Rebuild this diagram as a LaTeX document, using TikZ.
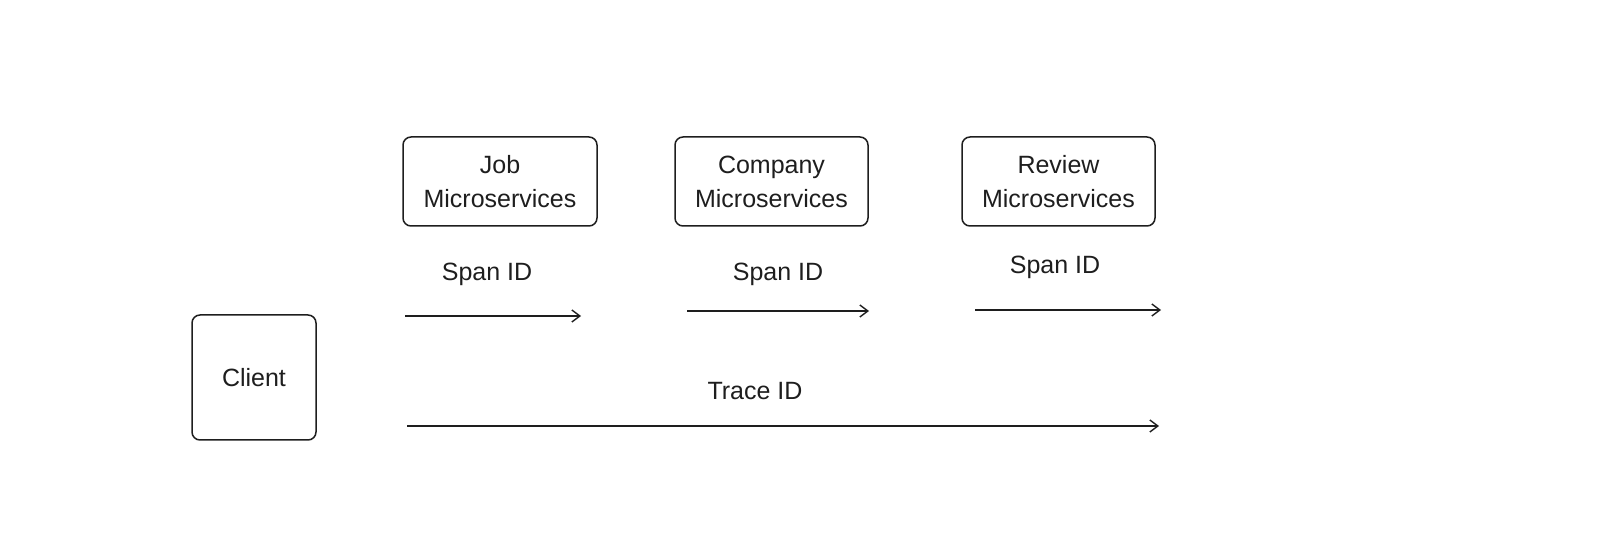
\documentclass[tikz,border=0pt]{standalone}
\usepackage{fontspec}
\setmainfont{Liberation Sans}
\usetikzlibrary{arrows.meta}
\definecolor{ink}{HTML}{1E1E1E}
\begin{document}
\begin{tikzpicture}[x=0.5pt,y=-0.5pt,
  box/.style={draw=ink,line width=0.75pt,rounded corners=4pt,inner sep=0pt,align=center,font=\fontsize{12.5}{17}\selectfont,text=ink},
  lbl/.style={inner sep=0pt,font=\fontsize{12.5}{17}\selectfont,text=ink},
  arr/.style={draw=ink,line width=0.7pt,-{Straight Barb[length=4pt,width=6pt]}}]
\useasboundingbox (0,0) rectangle (1608,534);
\node[box,minimum width=97pt,minimum height=44.5pt] (job) at (500,181.5) {Job\\Microservices};
\node[box,minimum width=96.5pt,minimum height=44.5pt] (company) at (771.5,181.5) {Company\\Microservices};
\node[box,minimum width=96.5pt,minimum height=44.5pt] (review) at (1058.5,181.5) {Review\\Microservices};
\node[box,minimum width=62pt,minimum height=62.5pt] (client) at (254,377.5) {Client};
\node[lbl] (s1) at (487,274) {Span ID};
\node[lbl] (s2) at (778,274) {Span ID};
\node[lbl] (s3) at (1055,267) {Span ID};
\node[lbl] (t) at (755,391) {Trace ID};
\coordinate (a1s) at (405,316);
\coordinate (a1e) at (581,316);
\coordinate (a2s) at (687,311);
\coordinate (a2e) at (869,311);
\coordinate (a3s) at (975,310);
\coordinate (a3e) at (1161,310);
\coordinate (ts) at (407,426);
\coordinate (te) at (1159,426);
\draw[arr] (a1s) -- (a1e);
\draw[arr] (a2s) -- (a2e);
\draw[arr] (a3s) -- (a3e);
\draw[arr] (ts) -- (te);
\end{tikzpicture}
\end{document}
